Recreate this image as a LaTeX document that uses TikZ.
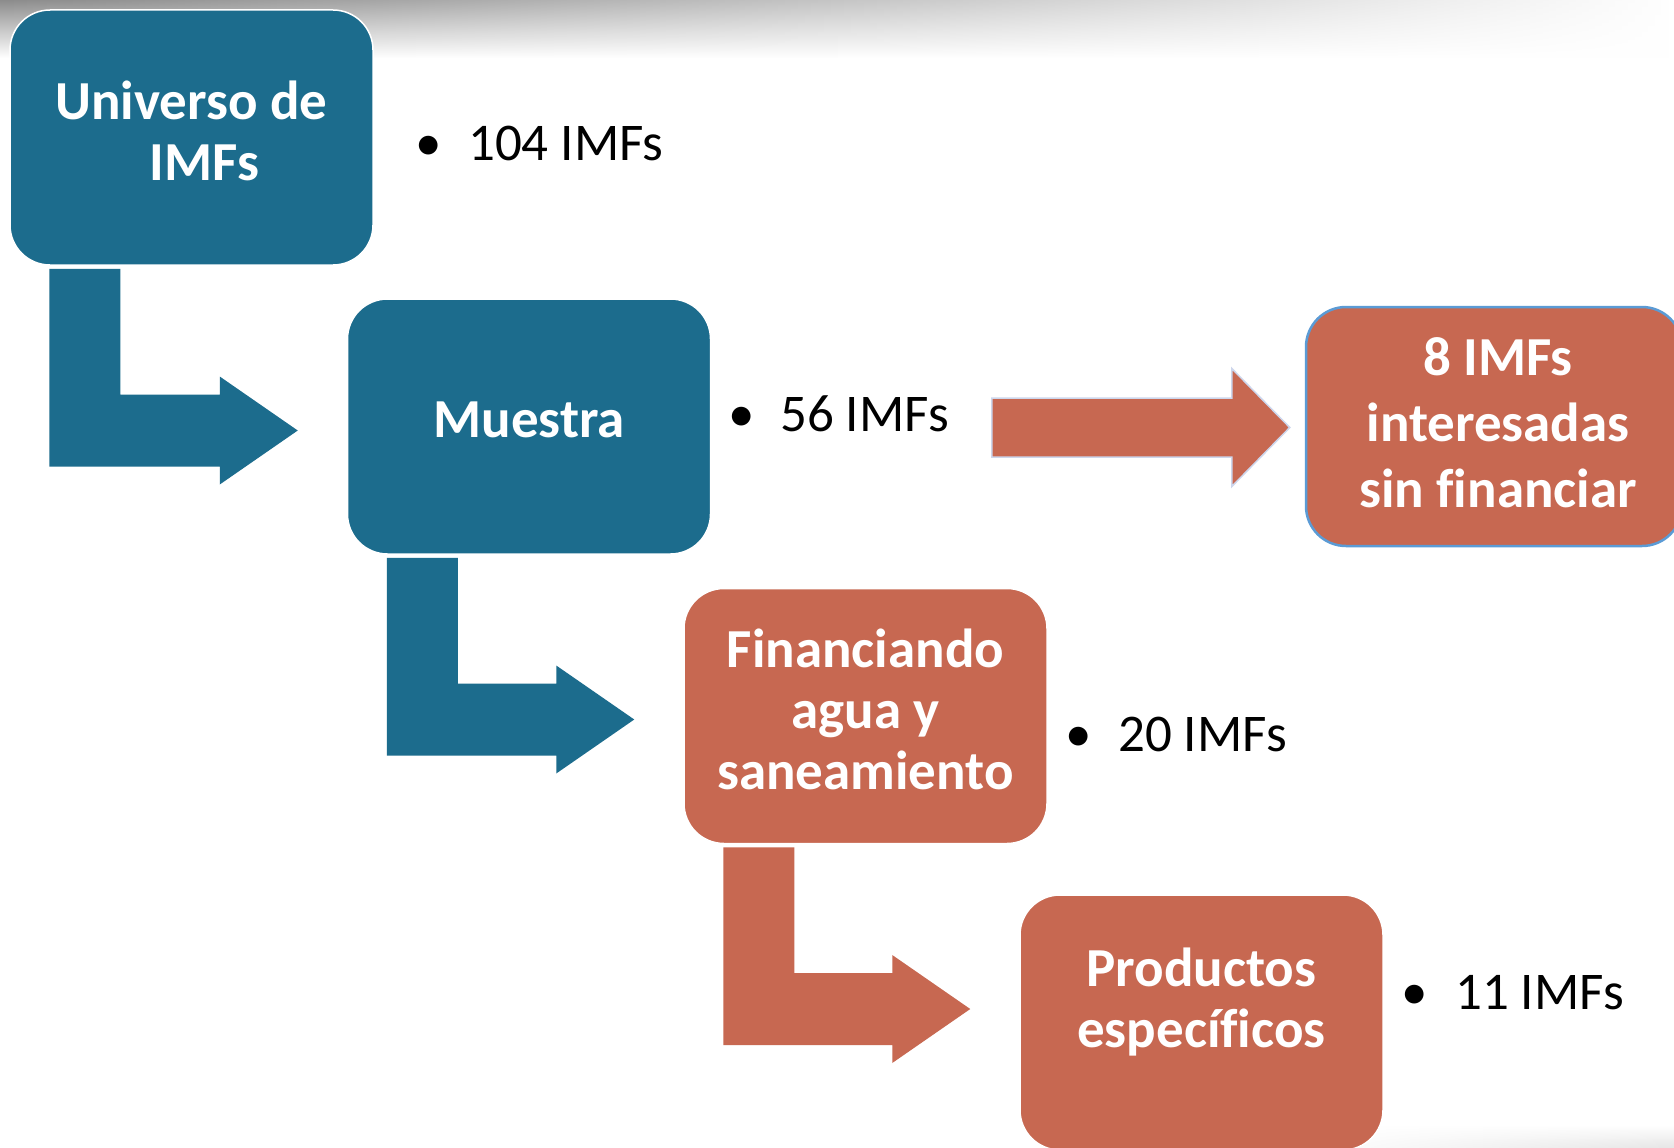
\documentclass[tikz,border=0pt]{standalone}
\usepackage{fontspec}
\setmainfont{Carlito}[Ligatures=NoCommon]
\usetikzlibrary{calc,fadings}

\definecolor{boxblue}{RGB}{28,108,141}
\definecolor{boxred}{RGB}{199,104,81}
\definecolor{edgeblue}{RGB}{91,155,213}
\definecolor{arrowedge}{RGB}{205,214,236}

% bent block arrow from one stage box down to the next
\newcommand{\elbowarrow}[3]{%
  \coordinate (e-tl) at ($(#1.south west)+(40,3)$);
  \coordinate (e-tr) at ($(#1.south west)+(111,3)$);
  \coordinate (e-x) at ($(#2.west)+(-49,0)$);
  \coordinate (e-y) at ($(#1.center)+(0,293)$);
  \coordinate (e-tip) at (e-x |- e-y);
  \coordinate (e-lo) at ($(e-tip)+(-78,36)$);
  \coordinate (e-up) at ($(e-tip)+(-78,-36)$);
  \fill[#3] (e-tl) -- (e-tl |- e-lo) -- (e-lo) -- ++(0,18) -- (e-tip)
    -- ($(e-up)+(0,-18)$) -- (e-up) -- (e-tr |- e-up) -- (e-tr) -- cycle;
}

\tikzset{
  stagebox/.style={rectangle, rounded corners=40pt, minimum width=363pt,
    minimum height=255pt, inner sep=0pt, draw=white, line width=1.5pt,
    text=white, align=center, text depth=14pt,
    font=\bfseries\fontsize{55}{61}\selectfont},
  bluebox/.style={stagebox, fill=boxblue},
  redbox/.style={stagebox, fill=boxred},
  countlabel/.style={anchor=base west, inner sep=0pt,
    font=\fontsize{53}{60}\selectfont},
}

\begin{document}
\begin{tikzpicture}[x=1pt,y=-1pt]
\fill[white] (0,0) rectangle (1674,1148);
\useasboundingbox (0,0) rectangle (1674,1148);
\shade[top color=black!45, bottom color=white, path fading=east] (0,0) rectangle (1674,58);
\shade[top color=white, bottom color=black!10, path fading=west] (1290,1125) rectangle (1674,1148);

% stages
\node[bluebox] (uni) at (191.5,137.5) {Universo de\\\hspace{26pt}IMFs};
\node[bluebox] (muestra) at (529,426.5) {Muestra};
\node[redbox] (finan) at (865.5,716) {Financiando\\agua y\\saneamiento};
\node[redbox, text depth=50pt] (prod) at (1201.5,1022.5) {Productos\\específicos};
\node[redbox, minimum width=376pt, minimum height=239pt, draw=edgeblue,
  line width=2.5pt, text depth=8pt, font=\bfseries\fontsize{55}{66}\selectfont]
  (interes) at (1494,426.5) {\hspace{8pt}8 IMFs\\\hspace{8pt}interesadas\\\hspace{8pt}sin financiar};

% counts
\node[countlabel] (n104) at (428,160) {\makebox[0pt]{\textbullet}\hspace{40pt}104 IMFs};
\node[countlabel] (n56) at (741,431) {\makebox[0pt]{\textbullet}\hspace{39pt}56 IMFs};
\node[countlabel] (n20) at (1078,751) {\makebox[0pt]{\textbullet}\hspace{40pt}20 IMFs};
\node[countlabel] (n11) at (1414,1009) {\makebox[0pt]{\textbullet}\hspace{41pt}11 IMFs};

% arrows
\elbowarrow{uni}{muestra}{boxblue}
\elbowarrow{muestra}{finan}{boxblue}
\elbowarrow{finan}{prod}{boxred}

\coordinate (tip) at ($(interes.west)+(-15,1)$);
\filldraw[fill=boxred, draw=arrowedge, line width=1.5pt]
  ($(tip)+(-298,-29.5)$) -- ($(tip)+(-58,-29.5)$) -- ($(tip)+(-58,-59)$) -- (tip)
  -- ($(tip)+(-58,59)$) -- ($(tip)+(-58,29.5)$) -- ($(tip)+(-298,29.5)$) -- cycle;
\end{tikzpicture}
\end{document}
